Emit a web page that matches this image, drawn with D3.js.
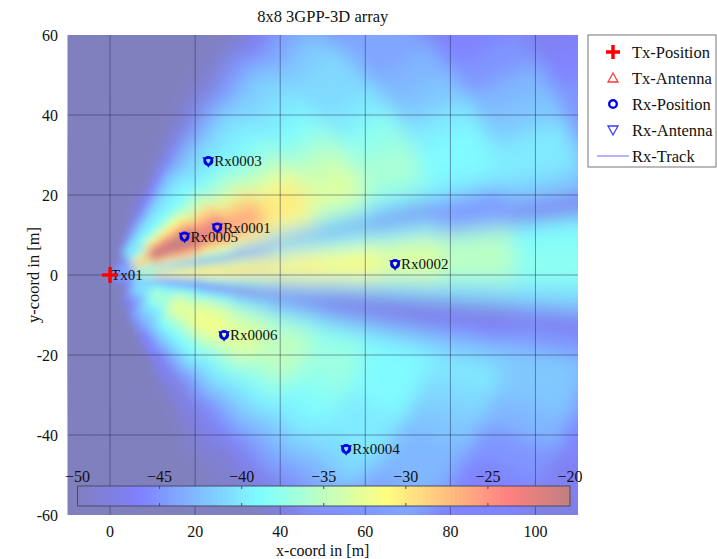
<!DOCTYPE html>
<html>
<head>
<meta charset="utf-8">
<script src="https://cdn.jsdelivr.net/npm/d3@7"></script>
<style>
  body { margin: 0; background: #fff; }
  svg { display: block; }
  text { font-family: 'Liberation Serif', 'Times New Roman', 'DejaVu Serif', serif; fill: #111; }
</style>
</head>
<body>
<svg id="chart" width="717" height="559" font-family="Liberation Serif, DejaVu Serif, serif"></svg>
<script>
// ---- chart data ----
const chartTitle = "8x8 3GPP-3D array";
const xLabel = "x-coord in [m]";
const yLabel = "y-coord in [m]";
const xTicks = [0, 20, 40, 60, 80, 100];
const yTicks = [-60, -40, -20, 0, 20, 40, 60];
const cbTicks = [-50, -45, -40, -35, -30, -25, -20];

const txNames = ["Tx01"];
const txX = [0];
const txY = [0];

const rxNames = ["Rx0001", "Rx0002", "Rx0003", "Rx0004", "Rx0005", "Rx0006"];
const rxX = [25.2, 67.0, 23.1, 55.5, 17.5, 26.8];
const rxY = [11.9, 2.75, 28.5, -43.5, 9.6, -15.0];

const legendItems = ["Tx-Position", "Tx-Antenna", "Rx-Position", "Rx-Antenna", "Rx-Track"];

// received power (dB) on a polar grid centred on the transmitter:
// one row per range ring, one column per azimuth angle
const beamAngles = [-80, -70, -60, -55, -50, -45, -40, -35, -30, -25, -20, -16, -12, -9, -6, -3,
                    0, 3, 6, 9, 12, 15, 18, 22, 26, 30, 35, 40, 45, 50, 55, 60, 65, 70, 80];
const beamRanges = [4, 8, 13, 19, 26, 34, 44, 56, 70, 86, 104, 124];
const powerDb = [
  [-50,-50,-50,-50,-50,-50,-49,-48,-47,-46,-46,-45,-45,-44,-44,-45,-44,-43,-44,-45,-45,-44,-44,-43,-43,-43,-44,-45,-46,-47,-48,-49,-50,-50,-50],
  [-50,-50,-48,-46,-45,-44,-43,-42,-41,-40,-40,-41,-42,-43,-42,-38,-34,-33,-36,-42,-40,-36,-33,-29,-27,-29,-34,-38,-41,-40,-39,-42,-46,-49,-50],
  [-50,-50,-45,-43,-42,-41,-40,-38,-37,-36,-37,-38,-40,-43,-46,-42,-31,-30,-34,-44,-38,-31,-26,-22,-20,-21,-25,-31,-36,-39,-40,-42,-45,-49,-50],
  [-50,-50,-46,-43,-41,-39,-37,-35,-33,-33,-34,-36,-39,-43,-47,-40,-30,-30,-34,-45,-36,-29,-25,-21,-20,-21,-26,-31,-36,-39,-40,-42,-46,-49,-50],
  [-50,-50,-47,-44,-41,-39,-37,-34,-32,-32,-33,-35,-39,-44,-47,-38,-30,-30,-34,-45,-37,-31,-27,-23,-22,-25,-29,-34,-37,-39,-40,-42,-46,-50,-50],
  [-50,-50,-48,-45,-42,-40,-38,-35,-33,-33,-34,-36,-40,-45,-48,-39,-30,-30,-33,-44,-42,-32,-29,-26,-26,-29,-33,-36,-38,-40,-41,-43,-47,-50,-50],
  [-50,-50,-48,-46,-43,-41,-39,-37,-35,-35,-35,-37,-41,-46,-48,-40,-31,-30,-32,-39,-46,-35,-31,-30,-30,-32,-35,-37,-39,-40,-41,-44,-48,-50,-50],
  [-50,-50,-49,-47,-44,-42,-40,-39,-38,-37,-37,-38,-42,-47,-48,-41,-32,-31,-33,-39,-47,-38,-34,-33,-34,-35,-37,-39,-40,-41,-42,-45,-49,-50,-50],
  [-50,-50,-50,-48,-45,-43,-41,-40,-40,-39,-39,-39,-42,-47,-48,-41,-34,-33,-34,-40,-47,-40,-37,-36,-37,-38,-40,-41,-41,-42,-44,-47,-50,-50,-50],
  [-50,-50,-50,-49,-47,-45,-44,-43,-43,-42,-41,-40,-42,-46,-48,-41,-36,-35,-36,-44,-45,-40,-39,-39,-40,-42,-43,-44,-44,-45,-47,-49,-50,-50,-50],
  [-50,-50,-50,-50,-49,-48,-47,-46,-46,-45,-43,-42,-42,-45,-47,-41,-38,-38,-39,-47,-42,-40,-40,-42,-43,-45,-46,-47,-47,-48,-49,-50,-50,-50,-50],
  [-50,-50,-50,-50,-50,-50,-49,-48,-48,-47,-46,-45,-44,-46,-47,-44,-41,-41,-42,-46,-44,-43,-45,-45,-46,-47,-48,-49,-49,-50,-50,-50,-50,-50,-50]
];

// ---- scales ----
const svg = d3.select("#chart");
const W = 717, H = 559;
const plotL = 67.5, plotR = 578, plotT = 35, plotB = 515;
const x = d3.scaleLinear([-10, 110], [plotL, plotR]);
const y = d3.scaleLinear([-60, 60], [plotB, plotT]);

// jet colormap drawn at half opacity over white
const jet = t => {
  const c = v => Math.max(0, Math.min(1, v));
  return [c(1.5 - Math.abs(4 * t - 3)), c(1.5 - Math.abs(4 * t - 2)), c(1.5 - Math.abs(4 * t - 1))];
};
const mix = 0.5;
const color = d3.scaleSequential([-50, -20], t => {
  const [r, g, b] = jet(t);
  return d3.rgb(255 * (1 - mix) + 255 * mix * r, 255 * (1 - mix) + 255 * mix * g, 255 * (1 - mix) + 255 * mix * b).toString();
}).clamp(true);

svg.append("rect").attr("width", W).attr("height", H).attr("fill", "#fff");

const defs = svg.append("defs");
defs.append("clipPath").attr("id", "plotClip")
  .append("rect").attr("x", plotL).attr("y", plotT).attr("width", plotR - plotL).attr("height", plotB - plotT);
const addBlur = (id, sd) => defs.append("filter").attr("id", id)
  .attr("filterUnits", "userSpaceOnUse").attr("x", 0).attr("y", 0).attr("width", W).attr("height", H)
  .append("feGaussianBlur").attr("stdDeviation", sd);
addBlur("smoothFar", 10);
addBlur("smoothNear", 4);

// the sharper near-field layer fades out with distance from the transmitter
const fade = defs.append("radialGradient").attr("id", "nearFade").attr("gradientUnits", "userSpaceOnUse")
  .attr("cx", x(0)).attr("cy", y(0)).attr("r", 220);
fade.append("stop").attr("offset", 0.42).attr("stop-color", "#fff");
fade.append("stop").attr("offset", 0.8).attr("stop-color", "#000");
defs.append("mask").attr("id", "nearMask").attr("maskUnits", "userSpaceOnUse")
  .attr("x", 0).attr("y", 0).attr("width", W).attr("height", H)
  .append("rect").attr("width", W).attr("height", H).attr("fill", "url(#nearFade)");

// ---- power map ----
const edges = (arr, lo, hi) => arr.map((v, i) => [
  i === 0 ? lo : (arr[i - 1] + v) / 2,
  i === arr.length - 1 ? hi : (v + arr[i + 1]) / 2
]);
const rEdges = edges(beamRanges, 0, 150);
const aEdges = edges(beamAngles, -90, 90);
const cells = [];
powerDb.forEach((row, i) => row.forEach((v, j) => cells.push({ r: rEdges[i], a: aEdges[j], v })));

const rad = Math.PI / 180;
function sector(d) {
  const pts = [];
  const n = 6;
  for (let k = 0; k <= n; k++) {
    const a = (d.a[0] + (d.a[1] - d.a[0]) * k / n) * rad;
    pts.push([x(d.r[1] * Math.cos(a)), y(d.r[1] * Math.sin(a))]);
  }
  for (let k = n; k >= 0; k--) {
    const a = (d.a[0] + (d.a[1] - d.a[0]) * k / n) * rad;
    pts.push([x(d.r[0] * Math.cos(a)), y(d.r[0] * Math.sin(a))]);
  }
  return "M" + pts.map(p => p[0].toFixed(2) + "," + p[1].toFixed(2)).join("L") + "Z";
}

const plot = svg.append("g").attr("clip-path", "url(#plotClip)");
function drawLayer(parent, filterId) {
  const g = parent.append("g").attr("filter", `url(#${filterId})`);
  g.append("rect").attr("x", -100).attr("y", -100).attr("width", W + 200).attr("height", H + 200)
    .attr("fill", color(-50));
  g.selectAll("path").data(cells).join("path")
    .attr("d", sector)
    .attr("fill", d => color(d.v))
    .attr("stroke", d => color(d.v))
    .attr("stroke-width", 0.8);
}
drawLayer(plot, "smoothFar");
drawLayer(plot.append("g").attr("mask", "url(#nearMask)"), "smoothNear");

// grid
const grid = plot.append("g").attr("stroke", "#1e1e46").attr("stroke-opacity", 0.45).attr("stroke-width", 1);
grid.selectAll("line.gx").data(xTicks).join("line")
  .attr("x1", d => x(d)).attr("x2", d => x(d)).attr("y1", plotT).attr("y2", plotB);
grid.selectAll("line.gy").data(yTicks.filter(v => v > -60 && v < 60)).join("line")
  .attr("x1", plotL).attr("x2", plotR).attr("y1", d => y(d)).attr("y2", d => y(d));

// ---- colorbar inside the axes ----
const cb = d3.scaleLinear([-50, -20], [77.5, 570]);
const cbTop = 486, cbBot = 506;
const cbG = svg.append("g");
const cbStep = 0.25;
cbG.selectAll("rect.cbs").data(d3.range(-50, -20, cbStep)).join("rect")
  .attr("x", d => cb(d)).attr("y", cbTop)
  .attr("width", d => cb(d + cbStep) - cb(d) + 0.6).attr("height", cbBot - cbTop)
  .attr("fill", d => color(d + cbStep / 2));
cbG.append("rect").attr("x", cb(-50)).attr("y", cbTop).attr("width", cb(-20) - cb(-50)).attr("height", cbBot - cbTop)
  .attr("fill", "none").attr("stroke", "#4a4a66").attr("stroke-width", 1);
cbG.selectAll("line.t1").data(cbTicks.slice(1, -1)).join("line")
  .attr("x1", d => cb(d)).attr("x2", d => cb(d)).attr("y1", cbTop).attr("y2", cbTop + 3)
  .attr("stroke", "#4a4a66");
cbG.selectAll("line.t2").data(cbTicks.slice(1, -1)).join("line")
  .attr("x1", d => cb(d)).attr("x2", d => cb(d)).attr("y1", cbBot - 3).attr("y2", cbBot)
  .attr("stroke", "#4a4a66");
cbG.selectAll("text").data(cbTicks).join("text")
  .attr("x", d => cb(d)).attr("y", 476).attr("dy", "0.35em")
  .attr("text-anchor", "middle").attr("font-size", 16)
  .text(d => d3.format("d")(d));

// ---- axes labels ----
svg.append("g").selectAll("text").data(xTicks).join("text")
  .attr("x", d => x(d)).attr("y", 531.5).attr("dy", "0.35em")
  .attr("text-anchor", "middle").attr("font-size", 16).text(d => d);
svg.append("g").selectAll("text").data(yTicks).join("text")
  .attr("x", 58).attr("y", d => y(d)).attr("dy", "0.35em")
  .attr("text-anchor", "end").attr("font-size", 16).text(d => d);
svg.append("text").attr("x", (plotL + plotR) / 2).attr("y", 550).attr("dy", "0.35em")
  .attr("text-anchor", "middle").attr("font-size", 16).text(xLabel);
svg.append("text").attr("transform", `translate(33,${(plotT + plotB) / 2}) rotate(-90)`).attr("dy", "0.35em")
  .attr("text-anchor", "middle").attr("font-size", 16.5).text(yLabel);
svg.append("text").attr("x", (plotL + plotR) / 2).attr("y", 16).attr("dy", "0.35em")
  .attr("text-anchor", "middle").attr("font-size", 16.5).text(chartTitle);

// ---- receivers and transmitter ----
const marks = svg.append("g");
const rx = rxNames.map((n, i) => ({ name: n, x: rxX[i], y: rxY[i] }));
marks.selectAll("text.rx").data(rx).join("text")
  .attr("x", d => x(d.x) + 6).attr("y", d => y(d.y)).attr("dy", "0.35em")
  .attr("font-size", 15).text(d => d.name);
const tx = txNames.map((n, i) => ({ name: n, x: txX[i], y: txY[i] }));
marks.selectAll("text.tx").data(tx).join("text")
  .attr("x", d => x(d.x) + 1).attr("y", d => y(d.y)).attr("dy", "0.35em")
  .attr("font-size", 15).text(d => d.name);

const rxG = marks.selectAll("g.rx").data(rx).join("g")
  .attr("transform", d => `translate(${x(d.x)},${y(d.y)})`);
rxG.append("path").attr("d", "M-4.5,-3L4.5,-3L0,5Z")
  .attr("fill", "none").attr("stroke", "#14148c").attr("stroke-width", 1.6);
rxG.append("circle").attr("r", 3.8)
  .attr("fill", "none").attr("stroke", "#0000f0").attr("stroke-width", 2.4);

marks.selectAll("g.tx").data(tx).join("g")
  .attr("transform", d => `translate(${x(d.x)},${y(d.y)})`)
  .append("path").attr("d", "M-8,0H8M0,-8V8")
  .attr("stroke", "#ff0000").attr("stroke-width", 3.5);

// ---- legend ----
const lg = svg.append("g");
lg.append("rect").attr("x", 588).attr("y", 35).attr("width", 128).attr("height", 132)
  .attr("fill", "#fff").attr("stroke", "#777").attr("stroke-width", 1);
const ly = i => 52 + i * 26;
const sx = 613;
lg.selectAll("text").data(legendItems).join("text")
  .attr("x", 632).attr("y", (d, i) => ly(i)).attr("dy", "0.35em")
  .attr("font-size", 16.5).text(d => d);
lg.append("path").attr("d", `M${sx - 7},${ly(0)}H${sx + 7}M${sx},${ly(0) - 7}V${ly(0) + 7}`)
  .attr("stroke", "#ff0000").attr("stroke-width", 3.5);
lg.append("path").attr("d", `M${sx},${ly(1) - 5}L${sx + 5},${ly(1) + 4}L${sx - 5},${ly(1) + 4}Z`)
  .attr("fill", "none").attr("stroke", "#ff3a3a").attr("stroke-width", 1.3);
lg.append("circle").attr("cx", sx).attr("cy", ly(2)).attr("r", 3.8)
  .attr("fill", "none").attr("stroke", "#0000f0").attr("stroke-width", 2.4);
lg.append("path").attr("d", `M${sx - 5},${ly(3) - 4}L${sx + 5},${ly(3) - 4}L${sx},${ly(3) + 5}Z`)
  .attr("fill", "none").attr("stroke", "#3a3aff").attr("stroke-width", 1.3);
lg.append("line").attr("x1", 597).attr("x2", 629).attr("y1", ly(4)).attr("y2", ly(4))
  .attr("stroke", "#9c9cff").attr("stroke-width", 1.5);
</script>
</body>
</html>
